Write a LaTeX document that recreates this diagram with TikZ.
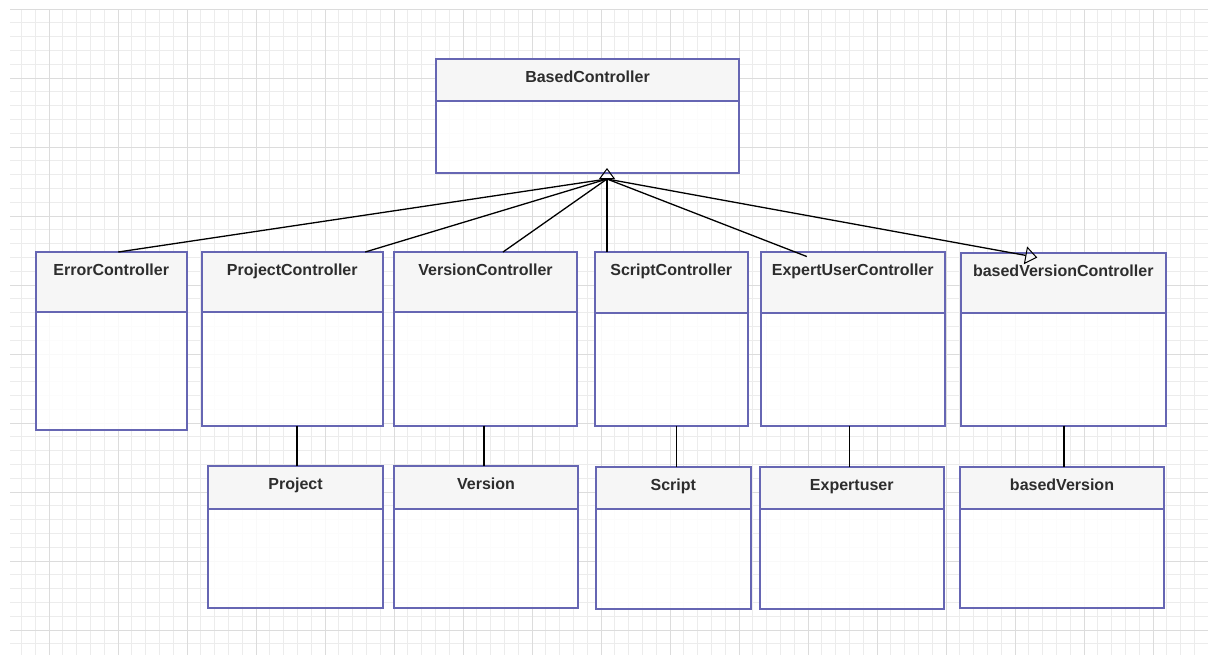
\documentclass[tikz,border=0pt]{standalone}
\usepackage{fontspec}
\setmainfont{Liberation Sans}
\usetikzlibrary{arrows.meta,calc,fit}

\definecolor{classedge}{RGB}{102,102,179}
\definecolor{headgray}{RGB}{246,246,246}
\definecolor{titlegray}{RGB}{45,45,45}
\definecolor{gridminor}{RGB}{236,236,236}
\definecolor{gridmajor}{RGB}{220,220,220}

\tikzset{
  minorline/.style={draw=gridminor, line width=0.8pt},
  majorline/.style={draw=gridmajor, line width=0.9pt},
  classbody/.style={fill=white, fill opacity=0.85, inner sep=0pt, outer sep=0pt},
  headfill/.style={fill=headgray, fill opacity=0.9},
  classframe/.style={draw=classedge, line width=2pt},
  classtitle/.style={font=\bfseries\fontsize{16}{19}\selectfont, text=titlegray, inner sep=0pt, anchor=base},
  conn/.style={draw=black, line width=1.3pt},
  assoc/.style={draw=black, line width=1.2pt},
  genarrow/.style={-{Triangle[open, length=11pt, width=16pt, line width=1pt]}},
}

% one UML class: name, x1, y1, x2, y2, y of the header divider, title
\newcommand\umlclass[7]{%
  \node[classbody, fit={(#2,#3)(#4,#5)}] (#1) {};
  \fill[headfill] (#2,#3) rectangle (#4,#6);
  \draw[classedge, line width=2pt] (#2,#6) -- (#4,#6);
  \draw[classframe] (#1.north west) rectangle (#1.south east);
  \node[classtitle] at ($(#1.north)+(0,23.5)$) {#7};
}

\begin{document}
\begin{tikzpicture}[x=1pt, y=-1pt]
\useasboundingbox (0,0) rectangle (1208,654);
\fill[white] (0,0) rectangle (1208,654);

% background grid
\begin{scope}
  \clip (10,9) rectangle (1208,654);
  \foreach \k in {-3,...,85}
    \draw[minorline] ({49+13.8*\k},0) -- ({49+13.8*\k},660);
  \foreach \k in {0,...,47}
    \draw[minorline] (0,{9+13.8*\k}) -- (1210,{9+13.8*\k});
  \foreach \k in {0,...,16}
    \draw[majorline] ({49+69*\k},0) -- ({49+69*\k},660);
  \foreach \k in {0,...,9}
    \draw[majorline] (0,{9+69*\k}) -- (1210,{9+69*\k});
\end{scope}

% classes
\umlclass{based}{436}{59}{739}{173}{101}{BasedController}

\umlclass{err}{36}{252}{186.5}{430}{312}{ErrorController}
\umlclass{pc}{201.5}{252}{383}{425.5}{312}{ProjectController}
\umlclass{vc}{394}{252}{577}{425.5}{312}{VersionController}
\umlclass{sc}{595}{252}{747.5}{425.5}{312.5}{ScriptController}
\umlclass{ec}{760.5}{252}{945}{425.5}{312.5}{ExpertUserController}
\umlclass{bvc}{960.5}{252.5}{1166}{425.5}{312.5}{basedVersionController}

\umlclass{p}{208}{466}{383}{608}{509}{Project}
\umlclass{v}{394}{466}{578}{608}{509}{Version}
\umlclass{s}{596}{466.5}{750.5}{608.5}{509}{Script}
\umlclass{e}{760}{466.5}{943.5}{608.5}{509}{Expertuser}
\umlclass{bv}{960}{466.5}{1164}{608}{509}{basedVersion}

% generalisation fan
\coordinate (apex) at (607,168);
\coordinate (hub) at (607,179);
\draw[conn] (hub) -- ($(err.north)+(7,0)$);
\draw[conn] (hub) -- ($(pc.north)+(73,0)$);
\draw[conn] (hub) -- ($(vc.north)+(17.5,0)$);
\draw[conn] (hub) -- ($(ec.north)+(-46,4.5)$);
\draw[conn, genarrow] (sc.north -| apex) -- (apex);
\draw[conn, -{Triangle[open, length=12pt, width=18pt, line width=1pt]}]
  (hub) -- ($(bvc.north)+(-26,5)$);

% associations
\draw[assoc] ($(pc.south -| p.north)+(1.5,0)$) -- ($(p.north)+(1.5,0)$);
\draw[assoc] ($(vc.south -| v.north)+(-2,0)$) -- ($(v.north)+(-2,0)$);
\draw[assoc] ($(sc.south -| s.north)+(3.5,0)$) -- ($(s.north)+(3.5,0)$);
\draw[assoc] ($(ec.south -| e.north)+(-2.5,0)$) -- ($(e.north)+(-2.5,0)$);
\draw[assoc] ($(bvc.south -| bv.north)+(2,0)$) -- ($(bv.north)+(2,0)$);
\end{tikzpicture}
\end{document}
